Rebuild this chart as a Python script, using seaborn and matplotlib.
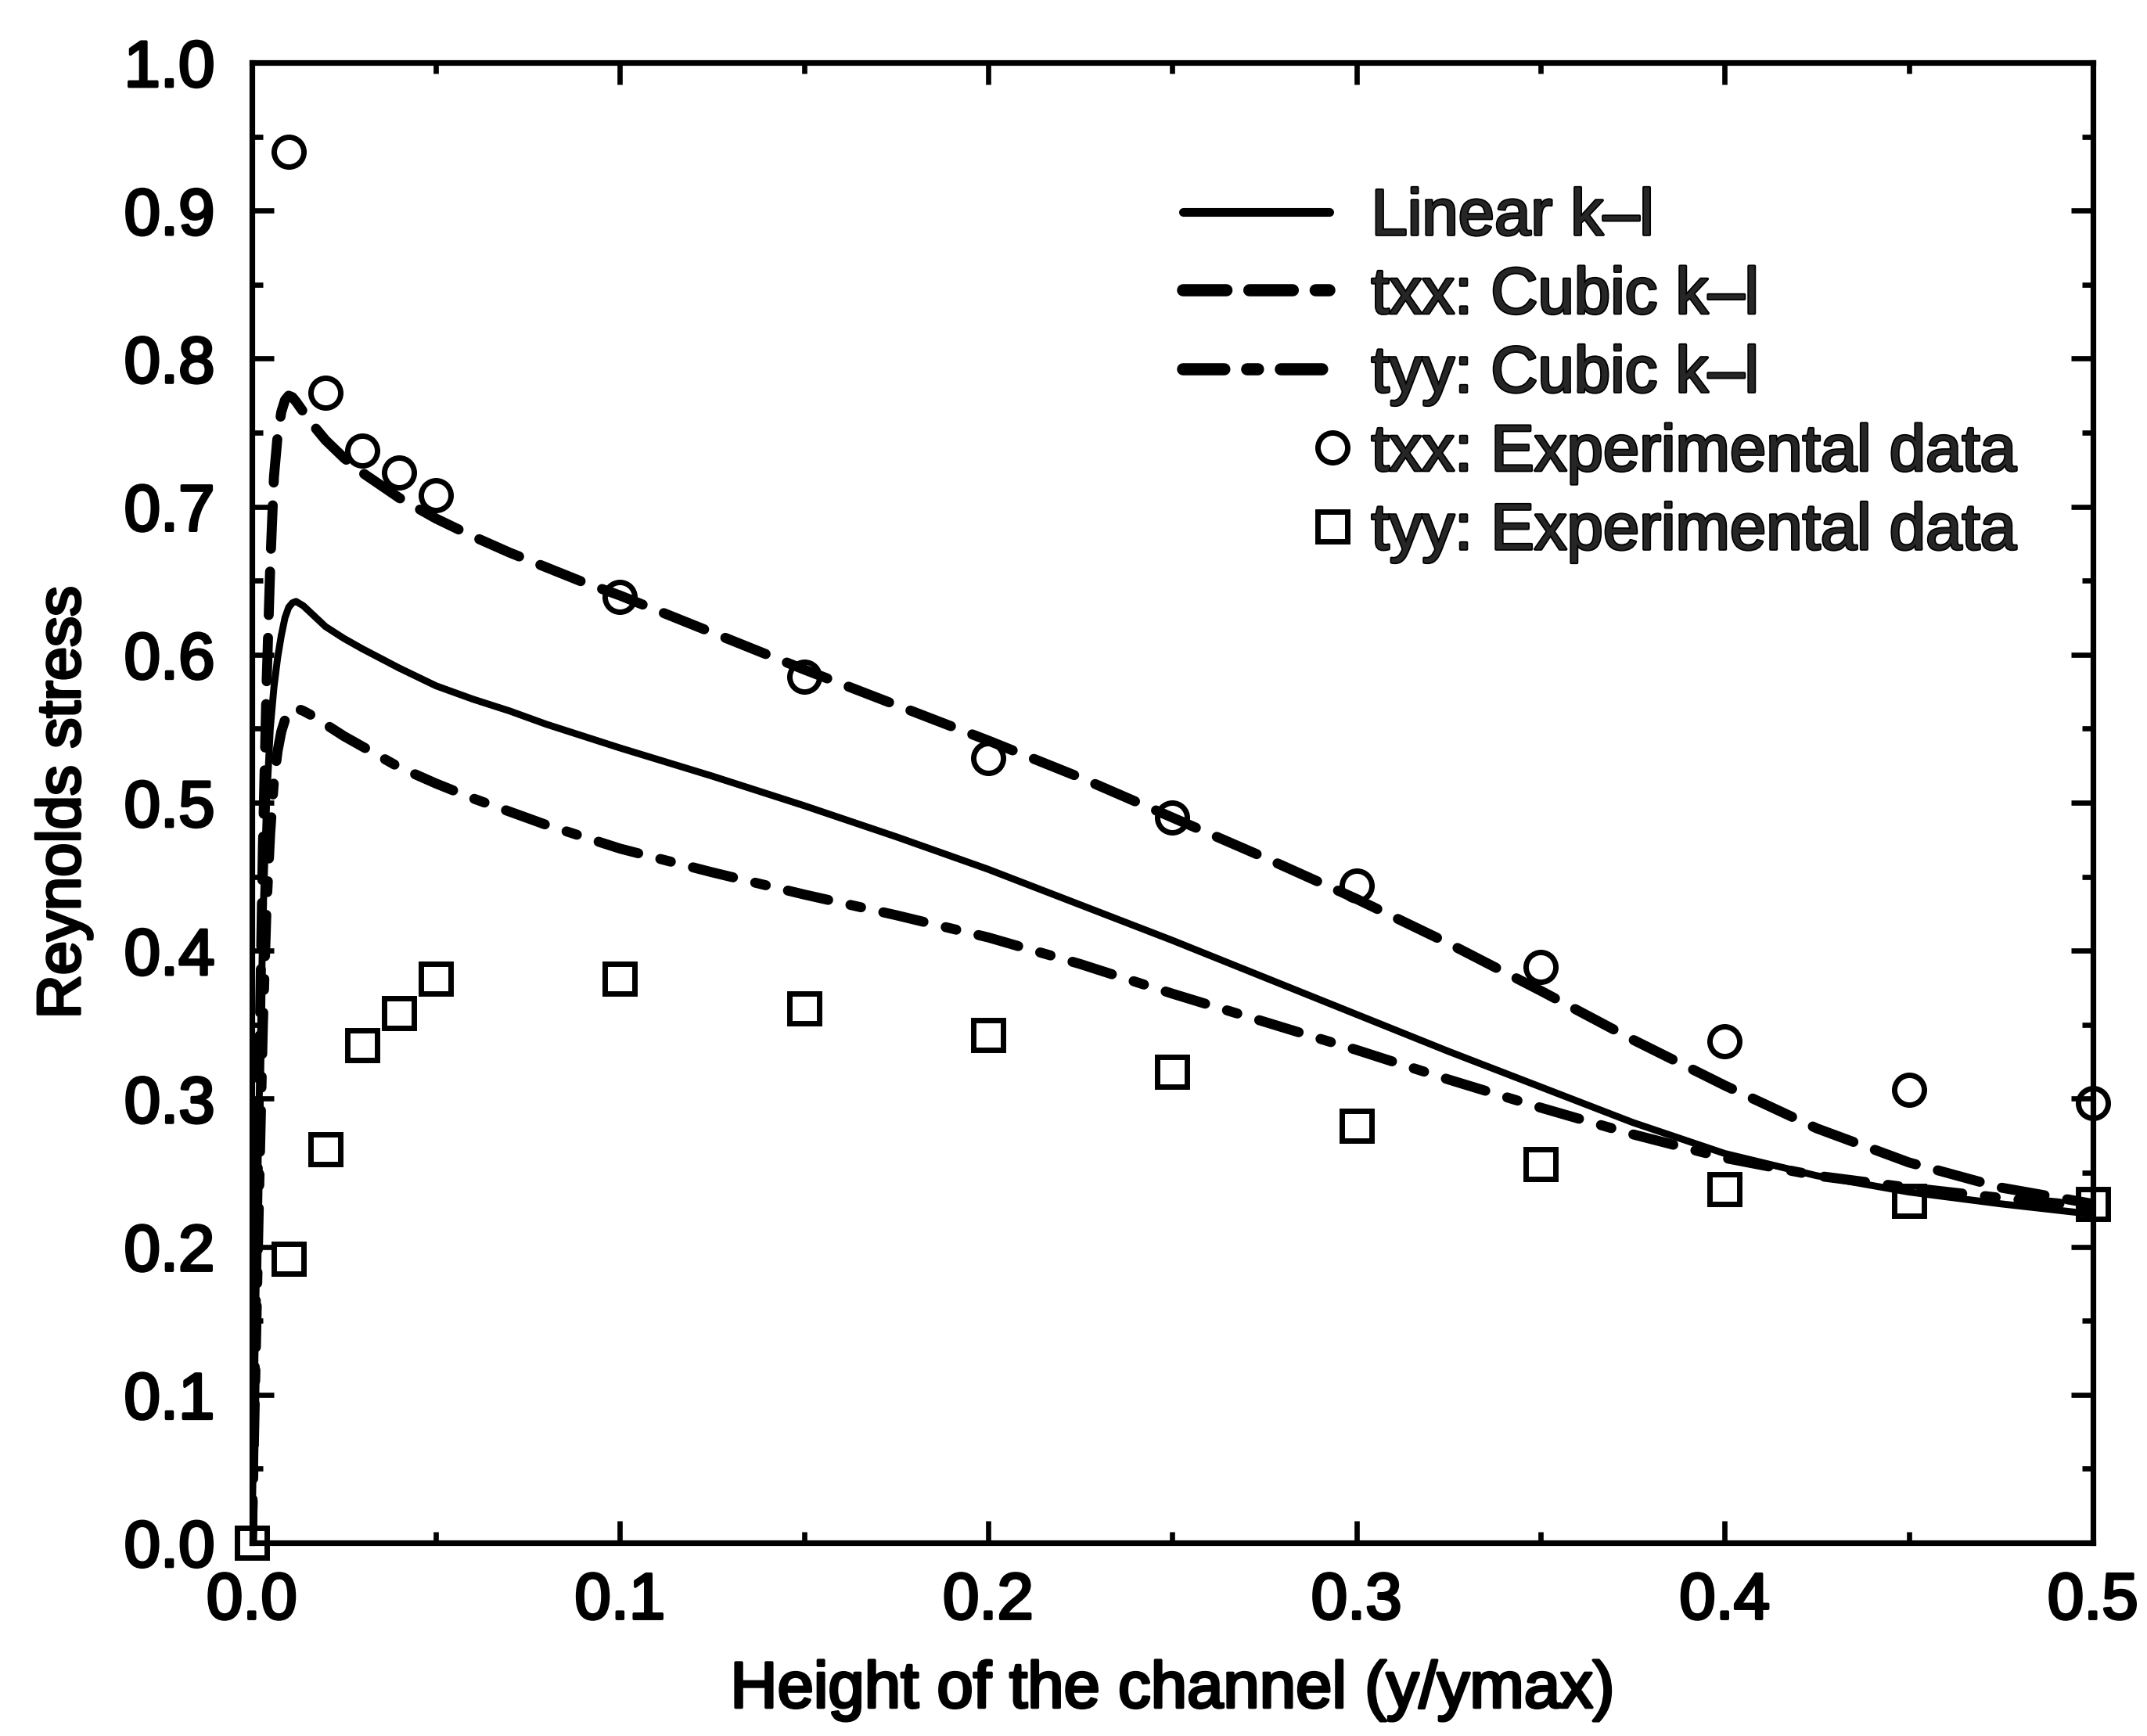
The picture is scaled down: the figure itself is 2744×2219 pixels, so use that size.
import numpy as np
import matplotlib
matplotlib.use("Agg")
import matplotlib.pyplot as plt
import matplotlib.patheffects as pe
import seaborn as sns
from matplotlib.legend_handler import HandlerLine2D, HandlerLine2DCompound
from matplotlib.ticker import MultipleLocator, FormatStrFormatter

# ---- model profiles across the channel (y / ymax) ----
y_over_ymax = [0, 0.001, 0.002, 0.003, 0.004, 0.005, 0.006, 0.007, 0.008, 0.009,
               0.010, 0.011, 0.012, 0.014, 0.017, 0.02, 0.025, 0.03, 0.04, 0.05,
               0.06, 0.07, 0.08, 0.09, 0.1, 0.125, 0.15, 0.175, 0.2, 0.225,
               0.25, 0.275, 0.3, 0.325, 0.35, 0.375, 0.4, 0.425, 0.45, 0.475, 0.5]
linear_kl = [0, 0.15, 0.30, 0.42, 0.50, 0.55, 0.578, 0.598, 0.613, 0.625,
             0.632, 0.635, 0.636, 0.633, 0.626, 0.619, 0.611, 0.604, 0.591, 0.579,
             0.570, 0.562, 0.553, 0.545, 0.537, 0.518, 0.498, 0.477, 0.455, 0.431,
             0.407, 0.382, 0.357, 0.332, 0.308, 0.284, 0.263, 0.248, 0.237, 0.229, 0.222]
txx_cubic = [0, 0.15, 0.32, 0.47, 0.58, 0.66, 0.72, 0.748, 0.764, 0.772,
             0.775, 0.774, 0.771, 0.764, 0.754, 0.745, 0.733, 0.723, 0.706, 0.692,
             0.680, 0.669, 0.659, 0.649, 0.640, 0.615, 0.590, 0.566, 0.542, 0.517,
             0.490, 0.463, 0.435, 0.405, 0.373, 0.340, 0.309, 0.280, 0.257, 0.240, 0.229]
tyy_cubic = [0, 0.12, 0.24, 0.35, 0.43, 0.48, 0.515, 0.535, 0.548, 0.556,
             0.561, 0.563, 0.564, 0.562, 0.558, 0.553, 0.545, 0.538, 0.524, 0.513,
             0.503, 0.494, 0.485, 0.477, 0.469, 0.453, 0.438, 0.424, 0.409, 0.391,
             0.371, 0.352, 0.333, 0.313, 0.294, 0.276, 0.260, 0.248, 0.240, 0.233, 0.227]

# ---- measurements ----
txx_exp_x = [0.01, 0.02, 0.03, 0.04, 0.05, 0.1, 0.15, 0.2, 0.25, 0.3, 0.35, 0.4, 0.45, 0.5]
txx_exp = [0.94, 0.777, 0.738, 0.723, 0.708, 0.639, 0.585, 0.530, 0.490, 0.444,
           0.389, 0.339, 0.306, 0.297]
tyy_exp_x = [0.0, 0.01, 0.02, 0.03, 0.04, 0.05, 0.1, 0.15, 0.2, 0.25, 0.3, 0.35,
             0.4, 0.45, 0.5]
tyy_exp = [0.0, 0.192, 0.266, 0.336, 0.358, 0.381, 0.381, 0.361, 0.343, 0.318,
           0.282, 0.256, 0.239, 0.231, 0.229]

x_ticks = [0.0, 0.1, 0.2, 0.3, 0.4, 0.5]
y_ticks = [0.0, 0.1, 0.2, 0.3, 0.4, 0.5, 0.6, 0.7, 0.8, 0.9, 1.0]

sns.set_theme(style="ticks")
plt.rcParams["font.family"] = ["Liberation Sans", "DejaVu Sans"]
plt.rcParams["lines.scale_dashes"] = False

INK = "black"
FS = 30
ink_fx = [pe.withStroke(linewidth=1.3, foreground=INK)]

fig = plt.figure(figsize=(13.72, 11.095), dpi=200)
fig.patch.set_facecolor("white")
ax = fig.add_axes([0.1173, 0.1113, 0.8575, 0.8526])
ax.set_facecolor("white")

# model curves
sns.lineplot(x=y_over_ymax, y=linear_kl, ax=ax, color=INK, linewidth=3.2,
             solid_capstyle="round", solid_joinstyle="round",
             label="Linear k\u2013l")
h_lin = ax.lines[-1]
sns.lineplot(x=y_over_ymax, y=txx_cubic, ax=ax, color=INK, linewidth=4.6,
             linestyle=(0, (20, 10.5)), dash_capstyle="round",
             dash_joinstyle="round", label="txx: Cubic k\u2013l")
h_txx = ax.lines[-1]
sns.lineplot(x=y_over_ymax, y=tyy_cubic, ax=ax, color=INK, linewidth=4.6,
             linestyle=(0, (19, 10.5, 5, 10.5)), dash_capstyle="round",
             dash_joinstyle="round", label="tyy: Cubic k\u2013l")
h_tyy = ax.lines[-1]

# experimental points
sns.lineplot(x=txx_exp_x, y=txx_exp, ax=ax, color=INK, linestyle="none",
             marker="o", markersize=13.7, markerfacecolor="none",
             markeredgecolor=INK, markeredgewidth=2.5, clip_on=False, zorder=5,
             label="txx: Experimental data")
h_cx = ax.lines[-1]
sns.lineplot(x=tyy_exp_x, y=tyy_exp, ax=ax, color=INK, linestyle="none",
             marker="s", markersize=13.7, markerfacecolor="none",
             markeredgecolor=INK, markeredgewidth=2.5, clip_on=False, zorder=5,
             label="tyy: Experimental data")
h_sy = ax.lines[-1]

ax.set_xlim(0, 0.5)
ax.set_ylim(0, 1.0)
ax.set_xticks(x_ticks)
ax.set_yticks(y_ticks)
ax.xaxis.set_minor_locator(MultipleLocator(0.05))
ax.yaxis.set_minor_locator(MultipleLocator(0.05))
ax.xaxis.set_major_formatter(FormatStrFormatter("%.1f"))
ax.yaxis.set_major_formatter(FormatStrFormatter("%.1f"))

for side in ["left", "right", "top", "bottom"]:
    ax.spines[side].set_visible(True)
    ax.spines[side].set_linewidth(2.6)
    ax.spines[side].set_color(INK)

ax.tick_params(which="both", direction="in", top=True, right=True,
               color=INK, width=2.4, labelcolor=INK, labelsize=FS)
ax.tick_params(which="major", length=10)
ax.tick_params(which="minor", length=5)
ax.tick_params(axis="x", which="major", pad=13)
ax.tick_params(axis="y", which="major", pad=17)

ax.set_xlabel("Height of the channel (y/ymax)", fontsize=FS, color=INK)
ax.set_ylabel("Reynolds stress", fontsize=28, color=INK)
ax.xaxis.set_label_coords(0.5, -0.079)
ax.yaxis.set_label_coords(-0.0867, 0.5)


class LineHandle(HandlerLine2D):
    """Legend line drawn with its own width."""
    def __init__(self, lw, **kw):
        super().__init__(**kw)
        self._lw = lw

    def update_prop(self, legend_handle, orig_handle, legend):
        super().update_prop(legend_handle, orig_handle, legend)
        legend_handle.set_linewidth(self._lw)


class MarkerAtEnd(HandlerLine2DCompound):
    """Single marker placed at the right end of the handle box."""
    def get_xdata(self, legend, xdescent, ydescent, width, height, fontsize):
        xdata = np.array([-xdescent, -xdescent + width])
        return xdata, np.array([-xdescent + width + 0.05 * fontsize])


handles = [h_lin, h_txx, h_tyy, h_cx, h_sy]
labels = [h.get_label() for h in handles]
leg = ax.legend(handles, labels, loc="upper left", bbox_to_anchor=(0.506, 0.916),
                frameon=False, fontsize=FS, borderpad=0, borderaxespad=0,
                handlelength=2.24, handletextpad=0.64, labelspacing=0.27,
                numpoints=1,
                handler_map={h_lin: LineHandle(4.0), h_txx: LineHandle(5.6),
                             h_tyy: LineHandle(5.6), h_cx: MarkerAtEnd(),
                             h_sy: MarkerAtEnd()})

fig.canvas.draw()
texts = (list(ax.get_xticklabels()) + list(ax.get_yticklabels())
         + [ax.xaxis.label, ax.yaxis.label] + list(leg.get_texts()))
for t in texts:
    t.set_path_effects(ink_fx)

fig.savefig("out.png", dpi=200, facecolor="white")
